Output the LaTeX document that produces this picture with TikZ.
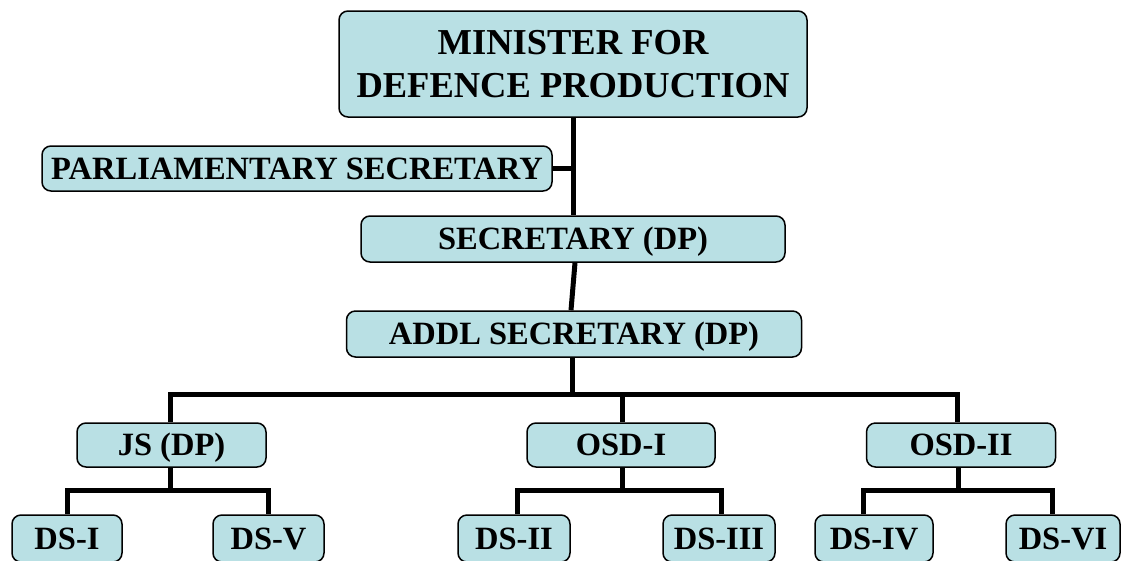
\documentclass[tikz,border=0pt]{standalone}
\usepackage{fontspec}
\setmainfont{Liberation Serif}
\usetikzlibrary{calc}
\definecolor{boxfill}{RGB}{185,224,228}
\tikzset{
  orgbox/.style={draw=black, line width=1.5pt, fill=boxfill, rounded corners=9pt,
    inner sep=0pt, font=\fontsize{32.5}{36}\selectfont\bfseries,
    text height=21pt, text depth=0pt, anchor=center},
  link/.style={line width=5pt, black, line cap=butt, line join=miter}
}
\begin{document}
\begin{tikzpicture}[x=1pt,y=-1pt]
\useasboundingbox (0,0) rectangle (1121,560);
% nodes
\node[orgbox, minimum width=468pt, minimum height=106pt, align=center,
      font=\fontsize{36.5}{43}\selectfont\bfseries, text height=, text depth=] (min) at (573,64)
      {MINISTER FOR\\DEFENCE PRODUCTION};
\node[orgbox, minimum width=510pt, minimum height=45pt] (parl) at (297,168.5) {PARLIAMENTARY SECRETARY};
\node[orgbox, minimum width=424pt, minimum height=46pt] (sec) at (573,239) {SECRETARY (DP)};
\node[orgbox, minimum width=455pt, minimum height=46pt] (addl) at (574,334) {ADDL SECRETARY (DP)};
\node[orgbox, minimum width=189pt, minimum height=44pt] (js) at (171.5,445) {JS (DP)};
\node[orgbox, minimum width=188pt, minimum height=44pt] (osd1) at (621,445) {OSD-I};
\node[orgbox, minimum width=189pt, minimum height=44pt] (osd2) at (961,445) {OSD-II};
\node[orgbox, minimum width=110pt, minimum height=47pt] (ds1) at (67,538.5) {DS-I};
\node[orgbox, minimum width=111pt, minimum height=47pt] (ds5) at (268.5,538.5) {DS-V};
\node[orgbox, minimum width=112pt, minimum height=47pt] (ds2) at (514,538.5) {DS-II};
\node[orgbox, minimum width=112pt, minimum height=47pt] (ds3) at (719,538.5) {DS-III};
\node[orgbox, minimum width=118pt, minimum height=47pt] (ds4) at (874,538.5) {DS-IV};
\node[orgbox, minimum width=114pt, minimum height=47pt] (ds6) at (1063,538.5) {DS-VI};
% bus levels
\coordinate (busA) at (0,394);
\coordinate (busB) at (0,490);
% attachment points
\coordinate (secB) at ($(sec.south)+(2,0)$);
\coordinate (addlT) at ($(addl.north)+(-3,0)$);
\coordinate (addlB) at ($(addl.south)+(-2,0)$);
\coordinate (jsT) at ($(js.north)+(-1.5,0)$);
\coordinate (jsB) at ($(js.south)+(-1.5,0)$);
\coordinate (osd1T) at ($(osd1.north)+(1,0)$);
\coordinate (osd1B) at ($(osd1.south)+(1,0)$);
\coordinate (osd2T) at ($(osd2.north)+(-4,0)$);
\coordinate (osd2B) at ($(osd2.south)+(-3,0)$);
\coordinate (ds2T) at ($(ds2.north)+(3,0)$);
\coordinate (ds3T) at ($(ds3.north)+(2,0)$);
\coordinate (ds4T) at ($(ds4.north)+(-11,0)$);
\coordinate (ds6T) at ($(ds6.north)+(-11,0)$);
% connectors
\draw[link] (min.south) -- (sec.north);
\draw[link] (parl.east) -- (parl.east -| min.south);
\draw[link] (secB) -- (addlT);
\draw[link] (addlB) -- (addlB |- busA);
\draw[link] (jsT) |- (osd2T |- busA) -- (osd2T);
\draw[link] (osd1T) -- (osd1T |- busA);
% JS children
\draw[link] (jsB) -- (jsB |- busB);
\draw[link] (ds1.north) |- (ds5.north |- busB) -- (ds5.north);
% OSD-I children
\draw[link] (osd1B) -- (osd1B |- busB);
\draw[link] (ds2T) |- (ds3T |- busB) -- (ds3T);
% OSD-II children
\draw[link] (osd2B) -- (osd2B |- busB);
\draw[link] (ds4T) |- (ds6T |- busB) -- (ds6T);
\end{tikzpicture}
\end{document}
